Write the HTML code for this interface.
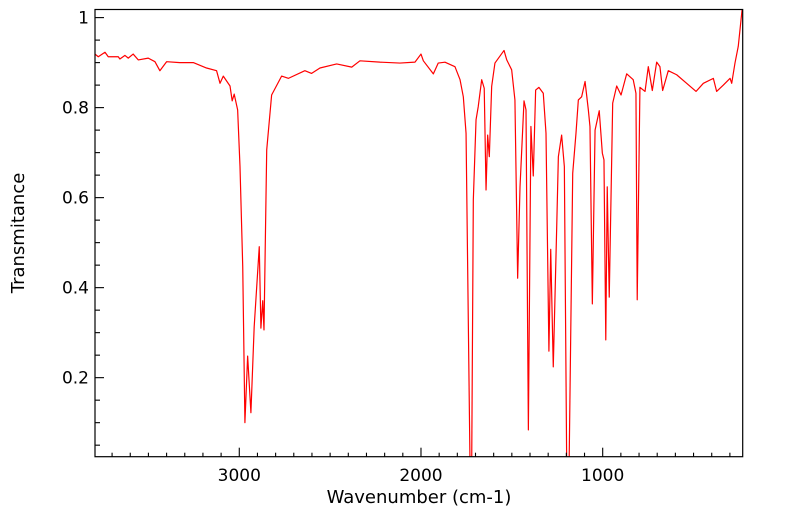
<!DOCTYPE html>
<html><head><meta charset="utf-8"><style>
html,body{margin:0;padding:0;background:#fff;}
svg{display:block;font-family:"DejaVu Sans","Liberation Sans",sans-serif;}
</style></head><body>
<svg id="chart" width="799" height="516" xmlns="http://www.w3.org/2000/svg"></svg>
<script>
const wavenumbers = [3794,3776,3739,3721,3666,3657,3629,3611,3584,3556,3501,3464,3437,3400,3327,3253,3180,3125,3106,3088,3051,3039,3028,3009,2996,2981,2969,2954,2936,2918,2890,2881,2871,2864,2849,2822,2767,2730,2639,2602,2556,2464,2381,2336,2226,2116,2033,2000,1987,1932,1905,1868,1813,1785,1767,1752,1741,1730,1721,1712,1697,1685,1666,1652,1642,1633,1624,1611,1593,1543,1528,1501,1483,1468,1455,1433,1422,1409,1395,1382,1369,1351,1327,1312,1296,1286,1272,1253,1244,1226,1211,1198,1185,1165,1147,1134,1116,1097,1079,1070,1057,1042,1019,1002,993,983,975,964,945,923,899,868,832,817,810,795,767,749,727,703,685,670,639,593,538,486,446,391,373,336,299,290,272,254,233];
const transmittance = [0.919,0.913,0.923,0.913,0.913,0.908,0.916,0.910,0.919,0.906,0.910,0.902,0.882,0.902,0.900,0.900,0.888,0.882,0.854,0.870,0.848,0.815,0.830,0.795,0.669,0.447,0.100,0.248,0.122,0.313,0.491,0.310,0.371,0.306,0.706,0.828,0.870,0.865,0.882,0.876,0.888,0.897,0.890,0.904,0.901,0.899,0.901,0.919,0.904,0.875,0.899,0.901,0.891,0.862,0.824,0.743,0.373,0.0,0.0,0.595,0.773,0.802,0.862,0.843,0.617,0.739,0.691,0.847,0.899,0.927,0.906,0.884,0.817,0.421,0.624,0.815,0.795,0.084,0.758,0.648,0.839,0.845,0.832,0.743,0.259,0.485,0.224,0.536,0.691,0.739,0.669,0.0,0.0,0.654,0.743,0.817,0.824,0.858,0.795,0.758,0.364,0.750,0.793,0.699,0.684,0.284,0.624,0.379,0.810,0.848,0.828,0.875,0.862,0.832,0.373,0.845,0.836,0.891,0.838,0.901,0.891,0.838,0.882,0.873,0.854,0.836,0.854,0.865,0.836,0.850,0.865,0.854,0.899,0.936,1.017];
const xTickValues = [3000,2000,1000];
const xTickLabels = ["3000","2000","1000"];
const yTickValues = [0.2,0.4,0.6,0.8,1.0];
const yTickLabels = ["0.2","0.4","0.6","0.8","1"];

const NS="http://www.w3.org/2000/svg";
const svg=document.getElementById('chart');
const L=95,R=742.7,T=9.5,B=456.7;
const xMin=229.5,xMax=3794,yMin=0.0244,yMax=1.018;
const xs=w=>L+(xMax-w)/(xMax-xMin)*(R-L);
const ys=v=>B-(v-yMin)/(yMax-yMin)*(B-T);
function mk(tag,attrs){const e=document.createElementNS(NS,tag);for(const k in attrs)e.setAttribute(k,attrs[k]);svg.appendChild(e);return e;}

const defs=mk('defs',{});
const cp=document.createElementNS(NS,'clipPath');cp.setAttribute('id','clip');
const cr=document.createElementNS(NS,'rect');cr.setAttribute('x',L);cr.setAttribute('y',T);cr.setAttribute('width',R-L);cr.setAttribute('height',B-T);
cp.appendChild(cr);defs.appendChild(cp);

let d='';
for(let i=0;i<wavenumbers.length;i++){d+=(i?'L':'M')+xs(wavenumbers[i]).toFixed(2)+','+ys(transmittance[i]).toFixed(2);}
const line=mk('path',{d:d,fill:'none',stroke:'#ff0000','stroke-width':1.2,'stroke-linejoin':'round','clip-path':'url(#clip)'});



const frame=mk('rect',{x:L,y:T,width:R-L,height:B-T,fill:'none',stroke:'#000','stroke-width':1.2});



// x minor ticks
for(let w=300;w<=3700;w+=100){
  const major=(w%1000===0);
  const x=xs(w);
  const t=mk('line',{x1:x,x2:x,y1:B,y2:B-(major?9:4),stroke:'#000','stroke-width':1.1});
  
  
}
for(let i=0;i<xTickValues.length;i++){
  const tx=mk('text',{x:xs(xTickValues[i]),y:481,'text-anchor':'middle','font-size':17,fill:'#000'});
  tx.textContent=xTickLabels[i];
  
  
}
// y ticks
for(let k=1;k<=20;k++){
  const v=k*0.05;
  if(v<yMin)continue;
  const major=(k%4===0);
  const y=ys(v);
  const t=mk('line',{x1:L,x2:L+(major?9:5),y1:y,y2:y,stroke:'#000','stroke-width':1.1});
  
  
}
for(let i=0;i<yTickValues.length;i++){
  const ty=mk('text',{x:89,y:ys(yTickValues[i])+6,'text-anchor':'end','font-size':17,fill:'#000'});
  ty.textContent=yTickLabels[i];
  
  
}
const xt=mk('text',{x:419,y:503,'text-anchor':'middle','font-size':18,fill:'#000'});
xt.textContent='Wavenumber (cm-1)';


const yt=mk('text',{x:0,y:0,'text-anchor':'middle','font-size':18,fill:'#000',transform:'translate(24,233) rotate(-90)'});
yt.textContent='Transmitance';


</script>
</body></html>
